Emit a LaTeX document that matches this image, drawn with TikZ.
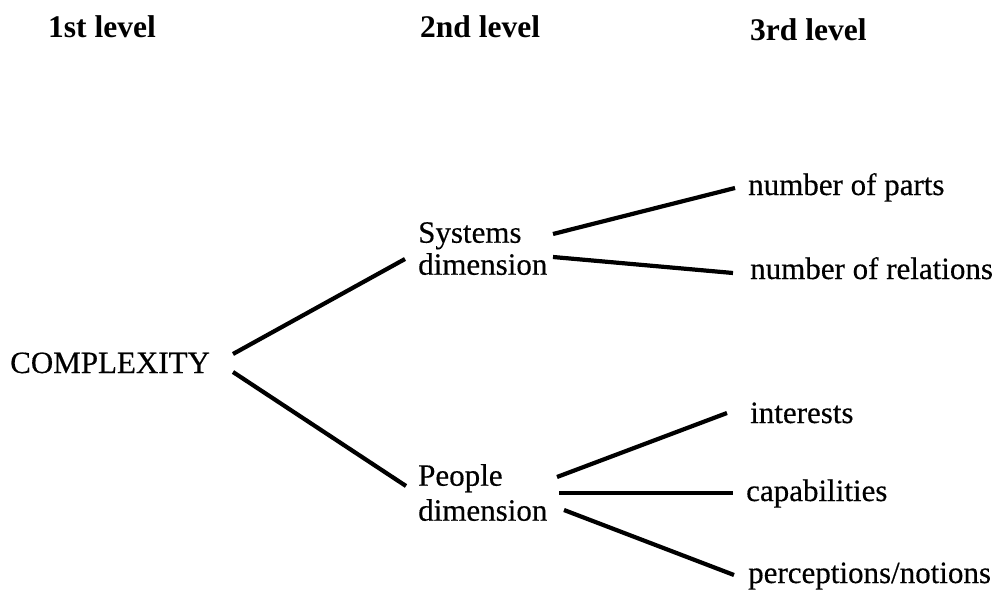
\documentclass[tikz,border=0pt]{standalone}
\usepackage{fontspec}
\setmainfont{Liberation Serif}
\newfontfamily\labelfont[FakeBold=0.4]{Liberation Serif}
\begin{document}
\begin{tikzpicture}[x=1pt,y=-1pt,
  levelhead/.style={font=\fontsize{31.5}{36}\selectfont\bfseries, inner sep=0pt, anchor=base west},
  leaf/.style={font=\labelfont\fontsize{31}{32}\selectfont, inner sep=0pt, anchor=base west},
  dimbox/.style={font=\labelfont\fontsize{31}{32}\selectfont, inner sep=0pt, anchor=north west, align=left},
  branch/.style={line width=4.2pt, line cap=butt}]
\useasboundingbox (0,0) rectangle (1002,594);

% column headings
\node[levelhead] (h1) at (48,38) {1st level};
\node[levelhead] (h2) at (420,38) {2nd level};
\node[levelhead] (h3) at (750,41) {3rd level};

% tree labels
\node[leaf] (cx) at (10,373) {COMPLEXITY};
\node[dimbox] (sys) at (418,222) {Systems\\dimension};
\node[dimbox, font=\labelfont\fontsize{31}{35}\selectfont] (ppl) at (418,464) {People\\dimension};
\node[leaf] (parts) at (748,195) {number of parts};
\node[leaf] (rels) at (750,279) {number of relations};
\node[leaf] (intr) at (750,423) {interests};
\node[leaf] (capa) at (746,501) {capabilities};
\node[leaf] (perc) at (748,583) {perceptions/notions};

% branch end points
\coordinate (cx-a) at (233,354);
\coordinate (cx-b) at (233,372);
\coordinate (sys-in) at (405,259);
\coordinate (ppl-in) at (406,486);
\coordinate (sys-a) at (553,234);
\coordinate (sys-b) at (553,257);
\coordinate (parts-in) at (735,188);
\coordinate (rels-in) at (733,273);
\coordinate (ppl-a) at (557,477);
\coordinate (ppl-b) at (559,493);
\coordinate (ppl-c) at (564,510);
\coordinate (intr-in) at (727,413);
\coordinate (capa-in) at (733,493);
\coordinate (perc-in) at (734,575);

% branches
\draw[branch] (cx-a) -- (sys-in);
\draw[branch] (cx-b) -- (ppl-in);
\draw[branch] (sys-a) -- (parts-in);
\draw[branch] (sys-b) -- (rels-in);
\draw[branch] (ppl-a) -- (intr-in);
\draw[branch] (ppl-b) -- (capa-in);
\draw[branch] (ppl-c) -- (perc-in);
\end{tikzpicture}
\end{document}
